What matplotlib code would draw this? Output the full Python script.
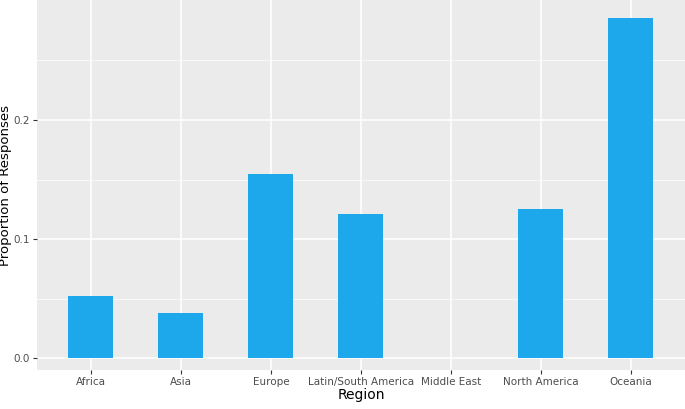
import matplotlib
matplotlib.use("Agg")
import matplotlib.pyplot as plt

regions = ["Africa", "Asia", "Europe", "Latin/South America", "Middle East", "North America", "Oceania"]
proportions = [0.052, 0.038, 0.155, 0.121, 0.0, 0.125, 0.286]

fig = plt.figure(figsize=(6.85, 4.09), dpi=100)
ax = fig.add_axes([0.054, 0.095, 0.946, 0.905])
ax.set_facecolor("#EBEBEB")
x = range(len(regions))
ax.bar(x, proportions, width=0.5, color="#1DA8EC", zorder=3)
ax.set_xlim(-0.6, len(regions) - 0.4)
ax.set_ylim(-0.0101, 0.3008)
ax.set_yticks([0.0, 0.1, 0.2])
ax.set_yticklabels(["0.0", "0.1", "0.2"])
ax.set_yticks([0.05, 0.15, 0.25], minor=True)
ax.set_xticks(list(x))
ax.set_xticklabels(regions)
ax.grid(which="major", color="white", linewidth=1.1, zorder=0)
ax.grid(which="minor", axis="y", color="white", linewidth=0.5, zorder=0)
for s in ax.spines.values():
    s.set_visible(False)
ax.tick_params(which="both", length=3, color="#333333", labelsize=7.5, labelcolor="#4D4D4D", pad=2)
ax.tick_params(which="minor", length=0)
ax.set_xlabel("Region", fontsize=10, labelpad=1)
ax.set_ylabel("Proportion of Responses", fontsize=9.5, labelpad=1)
fig.savefig("out.png", dpi=100)
